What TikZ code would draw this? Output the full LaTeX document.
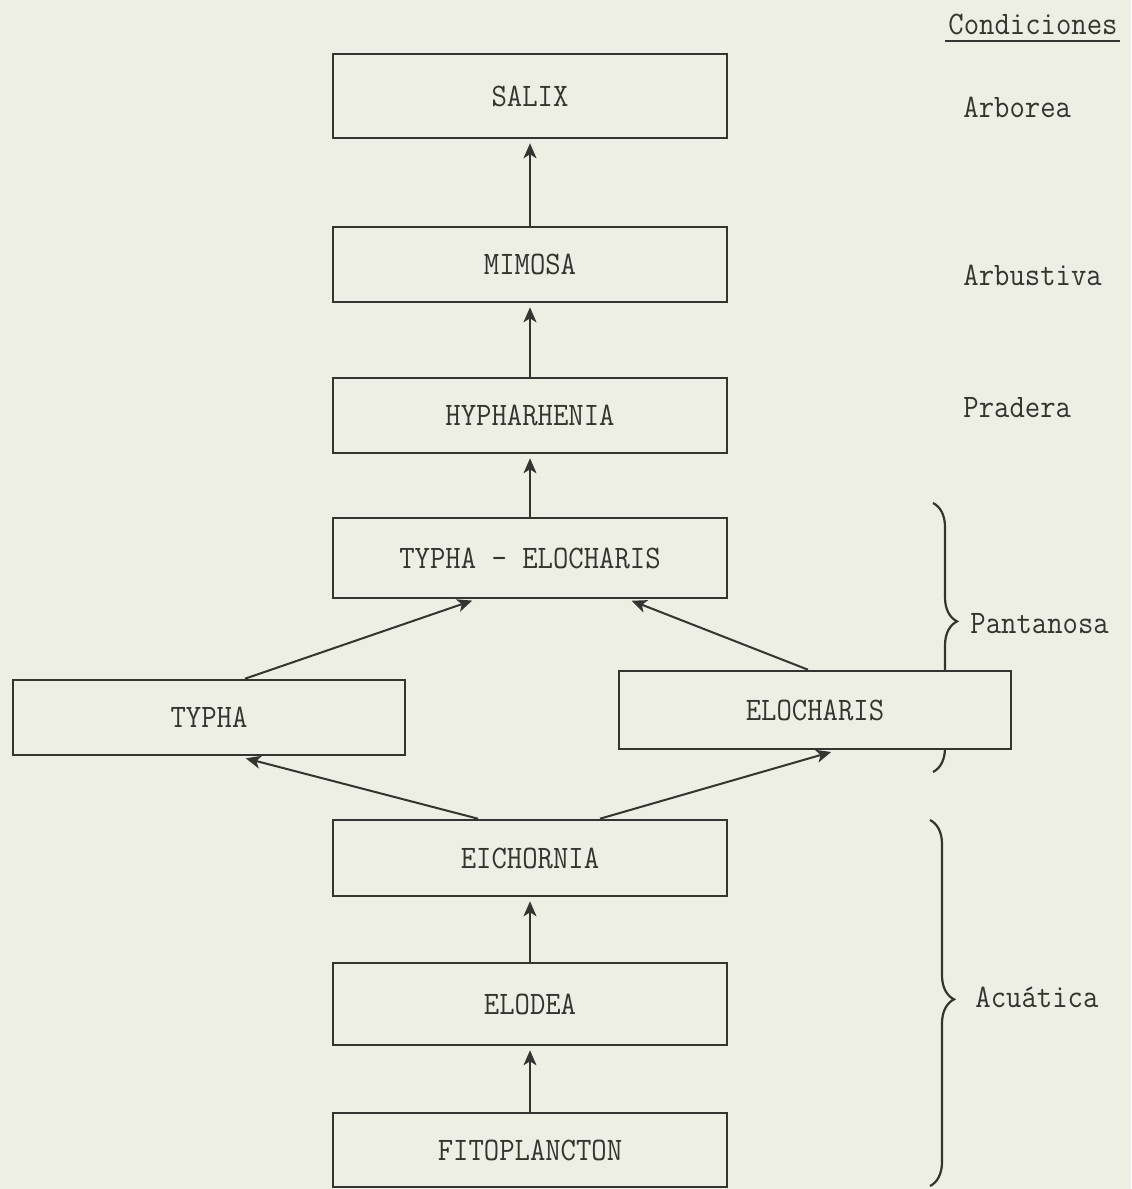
\documentclass[tikz,border=0pt]{standalone}
\usepackage{fontspec}
\usepackage{graphicx}
\usetikzlibrary{arrows.meta, calc, positioning, decorations.pathreplacing}
\definecolor{paper}{RGB}{237,239,229}
\definecolor{ink}{RGB}{52,52,48}
\newcommand{\typewr}{\fontsize{16.4pt}{18pt}\selectfont\ttfamily}
\newcommand{\tw}[1]{\scalebox{0.91}[1]{#1}}

\begin{document}
\begin{tikzpicture}[x=1pt,y=1pt,align=center,node distance=73pt]
\tikzstyle{stage}=[rectangle,draw=ink,line width=1.3pt,fill=paper,text=ink,minimum width=197pt,inner sep=0pt,font=\typewr]
\tikzstyle{succ}=[-{Stealth[length=7.5pt,width=6.5pt,inset=2pt]},draw=ink,line width=1pt,shorten >=2pt]
\tikzstyle{cond}=[anchor=base west,text=ink,font=\typewr,inner sep=0pt]
\tikzstyle{group}=[draw=ink,line width=1.1pt,decorate,decoration={brace,amplitude=12pt}]

% page
\fill[paper] (0,0) rectangle (565.5,-594.5);
\useasboundingbox (0,0) rectangle (565.5,-594.5);

% braces first, the boxes cover them
\coordinate (pan1) at (466.5,-251.5);
\coordinate (pan2) at (466.5,-386);
\coordinate (acu1) at (465,-410);
\coordinate (acu2) at (465,-593);
\draw[group,decoration={aspect=0.44}] (pan1) -- (pan2);
\draw[group,decoration={aspect=0.49}] (acu1) -- (acu2);

\node[stage,minimum height=37pt] (fito) at (265,-575) {\tw{FITOPLANCTON}};
\node[stage,minimum height=41pt] (elodea) [above of = fito] {\tw{ELODEA}};
\node[stage,minimum height=38pt] (eich) [above of = elodea] {\tw{EICHORNIA}};
\node[stage,minimum height=40pt] (te) [node distance=150pt, above of = eich] {\tw{TYPHA - ELOCHARIS}};
\node[stage,minimum height=37.5pt] (hyph) [node distance=71.25pt, above of = te] {\tw{HYPHARHENIA}};
\node[stage,minimum height=37.5pt] (mimosa) [node distance=75.5pt, above of = hyph] {\tw{MIMOSA}};
\node[stage,minimum height=42pt] (salix) [node distance=84.25pt, above of = mimosa] {\tw{SALIX}};
\node[stage,minimum height=37.5pt,minimum width=196pt] (typha) at (104.5,-358.75) {\tw{TYPHA}};
\node[stage,minimum height=39pt,minimum width=196pt] (eloch) at (407.5,-355) {\tw{ELOCHARIS}};

\path
  (fito) edge [succ] (elodea)
  (elodea) edge [succ] (eich)
  ([xshift=-26pt]eich.north) edge [succ,shorten >=4pt] ([xshift=14.5pt]typha.south)
  ([xshift=35pt]eich.north) edge [succ,shorten >=3pt] ([xshift=11pt]eloch.south)
  ([xshift=18pt]typha.north) edge [succ] ([xshift=-27pt]te.south)
  ([xshift=-3.5pt]eloch.north) edge [succ] ([xshift=49pt]te.south)
  (te) edge [succ] (hyph)
  (hyph) edge [succ] (mimosa)
  (mimosa) edge [succ] (salix);

% conditions column
\node[cond] (cond) at (474,-17) {\tw{Condiciones}};
\draw[ink,line width=1.2pt] ([xshift=-1.5pt,yshift=-3.5pt]cond.base west) -- ([xshift=1pt,yshift=-3.5pt]cond.base east);
\node[cond] (arb) at (481.5,-58.5) {\tw{Arborea}};
\node[cond] (arbu) at (481.5,-142.5) {\tw{Arbustiva}};
\node[cond] (prad) at (481.5,-208.5) {\tw{Pradera}};
\node[cond] (pant) at (485,-316.5) {\tw{Pantanosa}};
\node[cond] (acua) at (487.5,-503.5) {\tw{Acuática}};
\end{tikzpicture}
\end{document}
